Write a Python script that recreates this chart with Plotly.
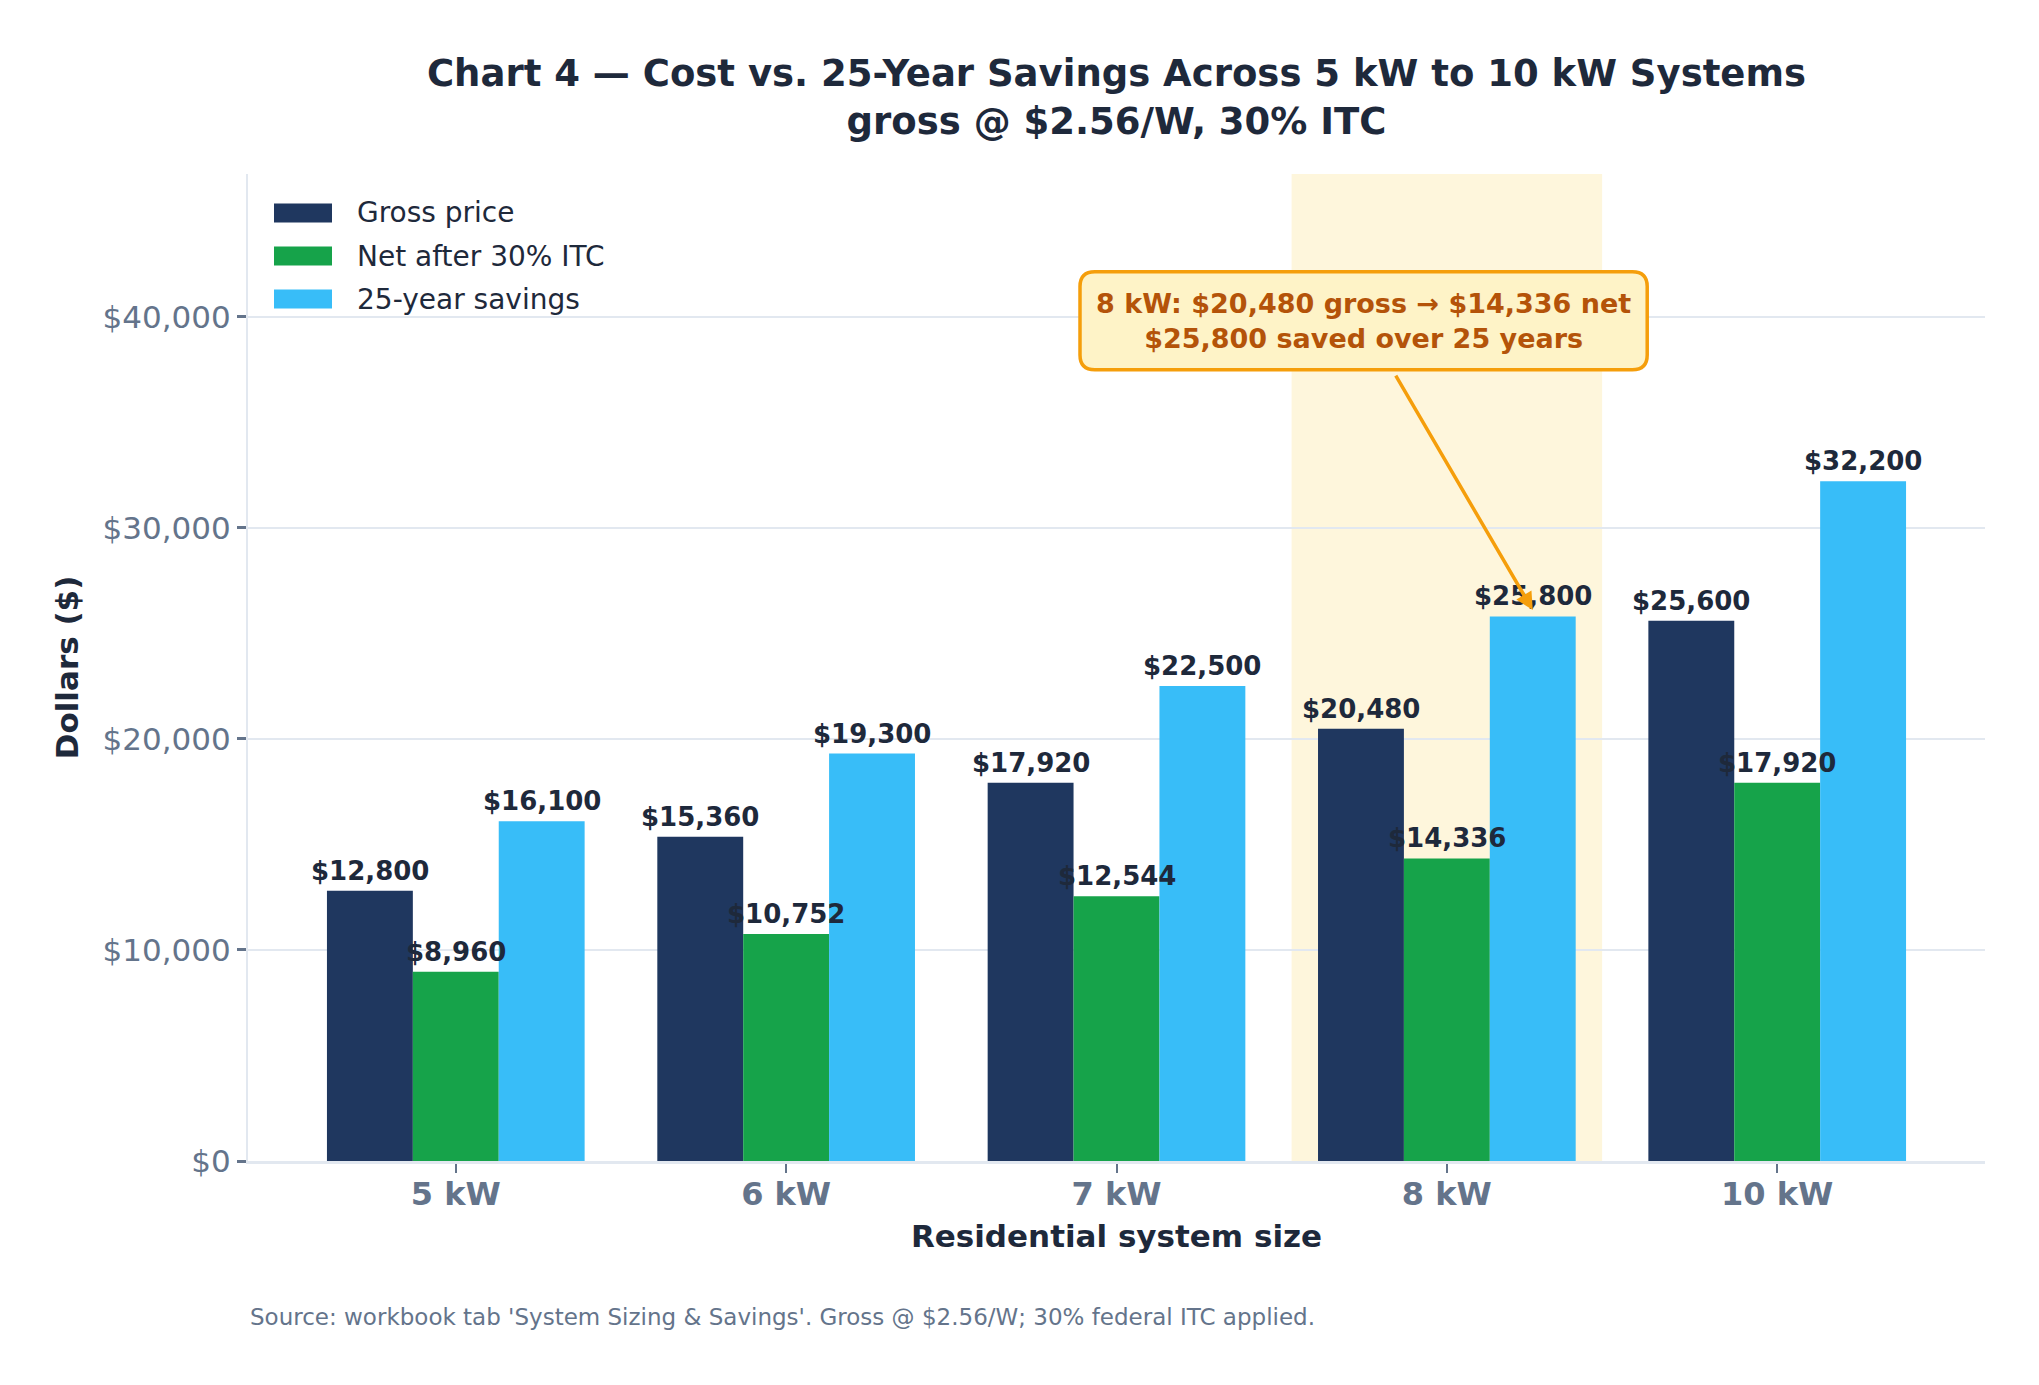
import plotly.graph_objects as go

# values
categories = ["5 kW", "6 kW", "7 kW", "8 kW", "10 kW"]
gross_price = [12800, 15360, 17920, 20480, 25600]
net_after_itc = [8960, 10752, 12544, 14336, 17920]
savings_25yr = [16100, 19300, 22500, 25800, 32200]

series_names = ["Gross price", "Net after 30% ITC", "25-year savings"]
series_colors = ["#1f375f", "#16a34a", "#38bdf8"]

INK = "#1e293b"
SLATE = "#64748b"
GRID = "#e2e8f0"
FONT = "DejaVu Sans"

W, H = 2039, 1385
ML, MR, MT, MB = 248, 54, 174, 224
Y_MAX = 46760
BAR_W = 0.26

fig = go.Figure()

all_series = [gross_price, net_after_itc, savings_25yr]
for name, vals, color in zip(series_names, all_series, series_colors):
    fig.add_trace(go.Bar(
        name=name, x=categories, y=vals,
        marker=dict(color=color, line=dict(width=0)),
        showlegend=False, hoverinfo="skip",
    ))

# value labels as annotations so they sit above every bar
for s, vals in enumerate(all_series):
    off = (s - 1) * BAR_W
    for i, v in enumerate(vals):
        fig.add_annotation(x=i + off, y=v, xref="x", yref="y", text=f"${v:,}",
                           showarrow=False, yanchor="bottom", yshift=3,
                           font=dict(family=FONT, size=26, color=INK, weight="bold"))

# highlight the 8 kW group
hi = categories.index("8 kW")
fig.add_shape(type="rect", xref="x", yref="paper", x0=hi - 0.47, x1=hi + 0.47, y0=0, y1=1,
              fillcolor="#fef6dc", line_width=0, layer="below")

# callout box (rounded rect drawn in data units)
cx, cy = 2.748, 39810
hw, hh = 0.8585, 2320
rx, ry = 0.045, 700
x0, x1, y0, y1 = cx - hw, cx + hw, cy - hh, cy + hh
path = (f"M{x0+rx},{y0} L{x1-rx},{y0} Q{x1},{y0} {x1},{y0+ry} L{x1},{y1-ry} Q{x1},{y1} {x1-rx},{y1} "
        f"L{x0+rx},{y1} Q{x0},{y1} {x0},{y1-ry} L{x0},{y0+ry} Q{x0},{y0} {x0+rx},{y0} Z")
fig.add_shape(type="path", xref="x", yref="y", path=path,
              fillcolor="#fef3c7", line=dict(color="#f59e0b", width=3.5), layer="above")

fig.add_annotation(x=hi + BAR_W, y=savings_25yr[hi] + 300, ax=cx, ay=cy, xref="x", yref="y",
                   axref="x", ayref="y", text="", showarrow=True, arrowhead=2, arrowsize=1,
                   arrowwidth=3.5, arrowcolor="#f59e0b", startstandoff=62, standoff=0)
fig.add_annotation(x=cx, y=cy, xref="x", yref="y", showarrow=False,
                   text=f"8 kW: ${gross_price[hi]:,} gross → ${net_after_itc[hi]:,} net<br>"
                        f"${savings_25yr[hi]:,} saved over 25 years",
                   font=dict(family=FONT, size=27, color="#b45309", weight="bold"))

# legend drawn by hand so the swatches are wide rectangles
pw, ph = W - ML - MR, H - MT - MB
for i, (name, color) in enumerate(zip(series_names, series_colors)):
    yc = 1 - (39 + 43 * i) / ph
    fig.add_shape(type="rect", xref="paper", yref="paper",
                  x0=26 / pw, x1=84 / pw, y0=yc - 9.5 / ph, y1=yc + 9.5 / ph,
                  fillcolor=color, line_width=0)
    fig.add_annotation(xref="paper", yref="paper", x=107 / pw, y=yc, xanchor="left", yanchor="middle",
                       text=name, showarrow=False, font=dict(family=FONT, size=28, color=INK))

fig.add_annotation(xref="paper", yref="paper", x=0, y=-156 / ph, xanchor="left", yanchor="middle",
                   showarrow=False,
                   text="Source: workbook tab 'System Sizing & Savings'. Gross @ $2.56/W; 30% federal ITC applied.",
                   font=dict(family=FONT, size=23, color=SLATE))

fig.update_layout(
    width=W, height=H,
    margin=dict(l=ML, r=MR, t=MT, b=MB),
    paper_bgcolor="white", plot_bgcolor="white",
    barmode="group", bargap=1 - 3 * BAR_W, bargroupgap=0,
    font=dict(family=FONT, color=INK),
    title=dict(text="Chart 4 — Cost vs. 25-Year Savings Across 5 kW to 10 kW Systems<br>gross @ $2.56/W, 30% ITC",
               x=0.5, xref="paper", y=1 - 86 / H, yref="container", yanchor="middle",
               font=dict(family=FONT, size=37, color=INK, weight="bold")),
    xaxis=dict(type="category", range=[-0.629, 4.629], showgrid=False,
               showline=True, linecolor=GRID, linewidth=3,
               ticks="outside", ticklen=9, tickwidth=2, tickcolor=SLATE, ticklabelstandoff=-6,
               tickfont=dict(family=FONT, size=32, color=SLATE, weight="bold"),
               title=dict(text="Residential system size", standoff=13,
                          font=dict(family=FONT, size=31, color=INK, weight="bold"))),
    yaxis=dict(range=[0, Y_MAX], dtick=10000, tickprefix="$", tickformat=",",
               showgrid=True, gridcolor=GRID, gridwidth=2, zeroline=False,
               showline=True, linecolor=GRID, linewidth=2,
               ticks="outside", ticklen=9, tickwidth=2.5, tickcolor=SLATE,
               tickfont=dict(family=FONT, size=31, color=SLATE),
               title=dict(text="Dollars ($)", standoff=15,
                          font=dict(family=FONT, size=31, color=INK, weight="bold"))),
)

fig.write_html("out.html", config={"displayModeBar": False},
               post_script="document.body.style.margin='0';")
